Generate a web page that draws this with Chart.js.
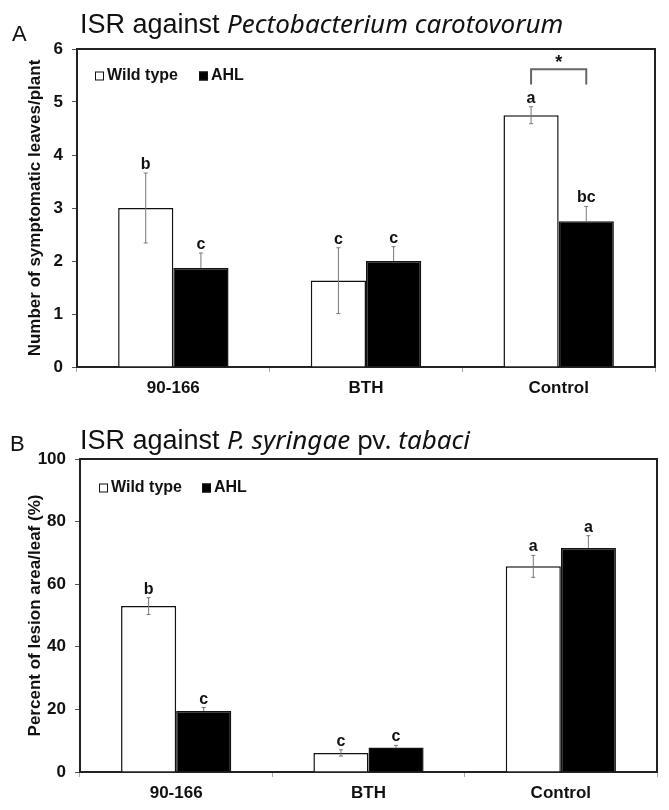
<!DOCTYPE html>
<html>
<head>
<meta charset="utf-8">
<script src="https://cdn.jsdelivr.net/npm/chart.js@4"></script>
<style>
  html, body { margin: 0; padding: 0; background: #fff; }
  #wrapA { position: absolute; left: 0; top: 0; width: 669px; height: 400px; }
  #wrapB { position: absolute; left: 0; top: 400px; width: 669px; height: 410px; }
</style>
</head>
<body>
<div id="wrapA"><canvas id="chartA"></canvas></div>
<div id="wrapB"><canvas id="chartB"></canvas></div>
<script>
const categories = ['90-166', 'BTH', 'Control'];
const seriesNames = ['Wild type', 'AHL'];

// A: number of symptomatic leaves per plant
const leavesWild = [3.0, 1.63, 4.75];
const leavesWildErr = [0.66, 0.62, 0.16];
const leavesAhl = [1.87, 2.0, 2.75];
const leavesAhlErr = [0.28, 0.27, 0.28];
const leavesWildLetters = ['b', 'c', 'a'];
const leavesAhlLetters = ['c', 'c', 'bc'];
const leavesTicks = [0, 1, 2, 3, 4, 5, 6];

// B: percent of lesion area per leaf
const lesionWild = [53.0, 6.1, 65.7];
const lesionWildErr = [2.7, 1.0, 3.5];
const lesionAhl = [19.5, 7.8, 71.6];
const lesionAhlErr = [1.1, 0.7, 3.9];
const lesionWildLetters = ['b', 'c', 'a'];
const lesionAhlLetters = ['c', 'c', 'a'];
const lesionTicks = [0, 20, 40, 60, 80, 100];

const boldFont = 'bold 16px "Liberation Sans", Arial, sans-serif';

const decorPlugin = {
  id: 'decor',
  afterDraw(chart, args, o) {
    const ctx = chart.ctx;
    const a = chart.chartArea;
    const yScale = chart.scales.y;
    ctx.save();

    // top + right frame
    ctx.strokeStyle = '#222';
    ctx.lineWidth = 2;
    ctx.beginPath();
    ctx.moveTo(a.left, a.top);
    ctx.lineTo(a.right, a.top);
    ctx.lineTo(a.right, a.bottom);
    ctx.stroke();

    // error bars + letters
    chart.data.datasets.forEach((ds, i) => {
      const meta = chart.getDatasetMeta(i);
      meta.data.forEach((bar, j) => {
        const v = ds.data[j], e = ds.err[j];
        const yTop = yScale.getPixelForValue(v + e);
        const yBot = yScale.getPixelForValue(v - e);
        const yVal = yScale.getPixelForValue(v);
        ctx.strokeStyle = '#777';
        ctx.lineWidth = 1;
        ctx.beginPath();
        ctx.moveTo(bar.x, yTop);
        ctx.lineTo(bar.x, ds.backgroundColor === '#000' ? yVal : yBot);
        ctx.moveTo(bar.x - 2, yTop);
        ctx.lineTo(bar.x + 2, yTop);
        if (ds.backgroundColor !== '#000') {
          ctx.moveTo(bar.x - 2, yBot);
          ctx.lineTo(bar.x + 2, yBot);
        }
        ctx.stroke();
        ctx.fillStyle = '#111';
        ctx.font = boldFont;
        ctx.textAlign = 'center';
        ctx.textBaseline = 'alphabetic';
        ctx.fillText(ds.letters[j], bar.x, yTop - 4);
      });
    });

    // significance bracket
    if (o.bracket) {
      const b = o.bracket;
      const x1 = chart.getDatasetMeta(0).data[b.index].x;
      const x2 = chart.getDatasetMeta(1).data[b.index].x;
      const yt = yScale.getPixelForValue(b.top);
      const yf = yScale.getPixelForValue(b.foot);
      ctx.strokeStyle = '#666';
      ctx.lineWidth = 2;
      ctx.beginPath();
      ctx.moveTo(x1, yf);
      ctx.lineTo(x1, yt);
      ctx.lineTo(x2, yt);
      ctx.lineTo(x2, yf);
      ctx.stroke();
      ctx.fillStyle = '#111';
      ctx.font = 'bold 18px "Liberation Sans", Arial, sans-serif';
      ctx.textAlign = 'center';
      ctx.fillText(b.mark, (x1 + x2) / 2, yt - 1);
    }

    // panel letter
    ctx.fillStyle = '#111';
    ctx.textAlign = 'left';
    ctx.textBaseline = 'alphabetic';
    ctx.font = '22px "Liberation Sans", Arial, sans-serif';
    ctx.fillText(o.panel, o.panelX, o.panelY);

    // title with italic parts
    let x = o.titleX;
    o.title.forEach(part => {
      ctx.font = part.font;
      ctx.fillText(part.text, x, o.titleY);
      x += ctx.measureText(part.text).width;
    });

    // legend
    ctx.font = boldFont;
    ctx.textBaseline = 'middle';
    chart.data.datasets.forEach((ds, i) => {
      const lx = o.legendX[i];
      ctx.fillStyle = ds.backgroundColor;
      ctx.fillRect(lx, o.legendY - 4.5, 9, 9);
      ctx.strokeStyle = '#111';
      ctx.lineWidth = 1;
      ctx.strokeRect(lx + 0.5, o.legendY - 4, 8, 8);
      ctx.fillStyle = '#111';
      ctx.fillText(ds.label, lx + 12, o.legendY);
    });
    ctx.restore();
  }
};

function buildChart(id, o) {
  return new Chart(document.getElementById(id), {
    type: 'bar',
    data: {
      labels: categories,
      datasets: [
        { label: seriesNames[0], data: o.wild, err: o.wildErr, letters: o.wildLetters,
          backgroundColor: '#fff', borderColor: '#111', borderWidth: 1.5 },
        { label: seriesNames[1], data: o.ahl, err: o.ahlErr, letters: o.ahlLetters,
          backgroundColor: '#000', borderColor: '#111', borderWidth: 1.5 }
      ]
    },
    options: {
      responsive: true,
      maintainAspectRatio: false,
      animation: false,
      layout: { padding: { left: 0, right: o.padRight, top: o.padTop, bottom: 0 } },
      datasets: { bar: { barPercentage: 1, categoryPercentage: 0.573 } },
      plugins: {
        legend: { display: false },
        tooltip: { enabled: false },
        decor: o.decor
      },
      scales: {
        x: {
          grid: { drawOnChartArea: false, drawTicks: true, tickLength: 5, color: '#aaa', offset: true },
          border: { display: true, color: '#222', width: 2 },
          ticks: { color: '#111', padding: 6, maxRotation: 0,
                   font: { family: '"Liberation Sans", Arial, sans-serif', size: 17, weight: 'bold' } },
          afterFit: s => { s.height = o.xHeight; }
        },
        y: {
          min: 0,
          max: o.ticks[o.ticks.length - 1],
          afterBuildTicks: s => { s.ticks = o.ticks.map(v => ({ value: v })); },
          grid: { drawOnChartArea: false, drawTicks: true, tickLength: 5, color: '#555' },
          border: { display: true, color: '#222', width: 2 },
          ticks: { color: '#111', padding: 9,
                   font: { family: '"Liberation Sans", Arial, sans-serif', size: 17, weight: 'bold' } },
          title: { display: true, text: o.yTitle, color: '#111', padding: { top: 25, bottom: 0 },
                   font: { family: '"Liberation Sans", Arial, sans-serif', size: 17, weight: 'bold' } },
          afterFit: s => { s.width = o.yWidth; }
        }
      }
    },
    plugins: [decorPlugin]
  });
}

const plain = '27px "Liberation Sans", Arial, sans-serif';
const ital = 'italic 26px "Noto Sans", sans-serif';
const plainN = '26px "Noto Sans", sans-serif';

buildChart('chartA', {
  wild: leavesWild, wildErr: leavesWildErr, wildLetters: leavesWildLetters,
  ahl: leavesAhl, ahlErr: leavesAhlErr, ahlLetters: leavesAhlLetters,
  ticks: leavesTicks,
  yTitle: 'Number of symptomatic leaves/plant',
  padTop: 49, padRight: 14, xHeight: 33, yWidth: 77,
  decor: {
    panel: 'A', panelX: 12, panelY: 41,
    title: [{ text: 'ISR against ', font: plain }, { text: 'Pectobacterium carotovorum', font: ital }],
    titleX: 80, titleY: 33,
    legendX: [95, 199], legendY: 76,
    bracket: { index: 2, top: 5.62, foot: 5.33, mark: '*' }
  }
});

buildChart('chartB', {
  wild: lesionWild, wildErr: lesionWildErr, wildLetters: lesionWildLetters,
  ahl: lesionAhl, ahlErr: lesionAhlErr, ahlLetters: lesionAhlLetters,
  ticks: lesionTicks,
  yTitle: 'Percent of lesion area/leaf (%)',
  padTop: 59, padRight: 12, xHeight: 38, yWidth: 80,
  decor: {
    panel: 'B', panelX: 10, panelY: 51,
    title: [{ text: 'ISR against ', font: plain }, { text: 'P. syringae', font: ital },
            { text: ' pv. ', font: plainN }, { text: 'tabaci', font: ital }],
    titleX: 80, titleY: 49,
    legendX: [99, 202], legendY: 88
  }
});
</script>
</body>
</html>
